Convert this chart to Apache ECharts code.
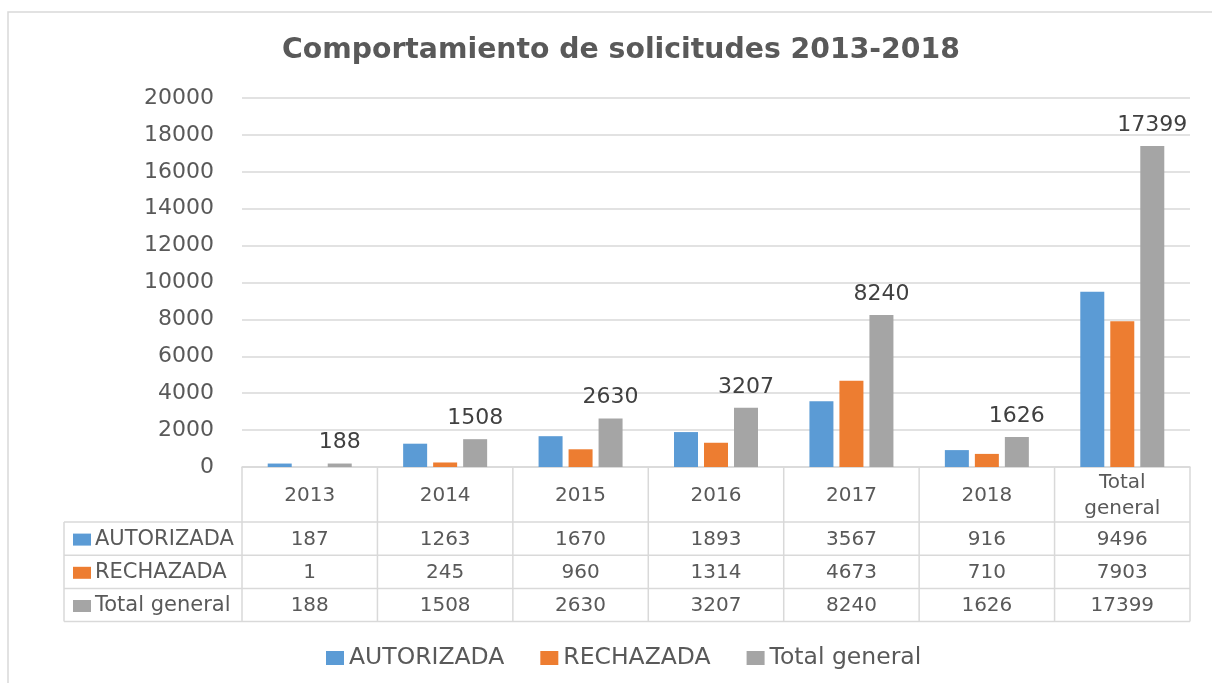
<!DOCTYPE html>
<html><head><meta charset="utf-8">
<script src="https://cdn.jsdelivr.net/npm/echarts@6/dist/echarts.min.js"></script>
<style>html,body{margin:0;padding:0;background:#fff}#c{width:1212px;height:683px}</style>
</head><body><div id="c"></div>
<script>
const categories = ['2013','2014','2015','2016','2017','2018','Total general'];
const headerLabels = ['2013','2014','2015','2016','2017','2018','Total\ngeneral'];
const seriesNames = ['AUTORIZADA','RECHAZADA','Total general'];
const autorizada = [187,1263,1670,1893,3567,916,9496];
const rechazada = [1,245,960,1314,4673,710,7903];
const totalGeneral = [188,1508,2630,3207,8240,1626,17399];
const colors = ['#5B9BD5','#ED7D31','#A5A5A5'];
const yMin = 0, yMax = 20000, yInterval = 2000;

const FONT = 'DejaVu Sans';
const TXT = '#595959';
const LINE = '#D9D9D9';

const chart = echarts.init(document.getElementById('c'), null, {renderer:'canvas'});
const allData = [autorizada, rechazada, totalGeneral];

chart.setOption({
  animation:false,
  backgroundColor:'#fff',
  textStyle:{fontFamily:FONT},
  title:{text:'Comportamiento de solicitudes 2013-2018', left:277, top:32,
    textStyle:{fontSize:28.3, fontWeight:'bold', color:TXT, fontFamily:FONT}},
  legend:{data:seriesNames, left:321, top:641, icon:'rect', itemWidth:18, itemHeight:14, itemGap:36,
    textStyle:{fontSize:23.5, color:TXT, fontFamily:FONT}},
  grid:{left:242, right:22, top:98, bottom:216, containLabel:false},
  xAxis:{type:'category', data:categories,
    axisLine:{show:true, lineStyle:{color:LINE, width:1.5}},
    axisTick:{show:false}, axisLabel:{show:false}},
  yAxis:{type:'value', min:yMin, max:yMax, interval:yInterval,
    axisLine:{show:false}, axisTick:{show:false},
    splitLine:{lineStyle:{color:LINE, width:1.5}},
    axisLabel:{fontSize:22, color:TXT, margin:28, fontFamily:FONT, formatter:(v)=>String(v)}},
  series: seriesNames.map((n,i)=>({
    name:n, type:'bar', data:allData[i], barWidth:24, barGap:'25%',
    itemStyle:{color:colors[i]},
    label: i===2 ? {show:true, position:'top', distance:10, fontSize:22, color:'#404040', fontFamily:FONT} : {show:false}
  }))
});

function buildTable(){
  const c0 = chart.convertToPixel({xAxisIndex:0}, categories[0]);
  const c1 = chart.convertToPixel({xAxisIndex:0}, categories[1]);
  const colW = c1 - c0;
  const left = c0 - colW/2;
  const right = left + colW*categories.length;
  const top = chart.convertToPixel({yAxisIndex:0}, 0);
  const headerH = 55, rowH = 33.2, labelLeft = 64;
  const els = [];
  const line = (x1,y1,x2,y2)=>els.push({type:'line', silent:true, shape:{x1,y1,x2,y2}, style:{stroke:LINE, lineWidth:1.5}});
  const rowsTop = top + headerH;
  const bottom = rowsTop + rowH*3;
  line(labelLeft, rowsTop, right, rowsTop);
  for(let r=1;r<=3;r++) line(labelLeft, rowsTop + rowH*r, right, rowsTop + rowH*r);
  line(labelLeft, rowsTop, labelLeft, bottom);
  for(let k=0;k<=categories.length;k++) line(left+colW*k, top, left+colW*k, bottom);
  headerLabels.forEach((h,k)=>{
    els.push({type:'text', silent:true, style:{text:h, x:left+colW*(k+0.5), y:top+headerH/2+1, align:'center', verticalAlign:'middle',
      fill:TXT, fontSize:20, fontFamily:FONT, lineHeight:26}});
  });
  seriesNames.forEach((n,r)=>{
    const yc = rowsTop + rowH*(r+0.5) + 1;
    els.push({type:'rect', silent:true, shape:{x:labelLeft+9, y:yc-6, width:18, height:12}, style:{fill:colors[r]}});
    els.push({type:'text', silent:true, style:{text:n, x:labelLeft+31, y:yc, align:'left', verticalAlign:'middle', fill:TXT, fontSize:21, fontFamily:FONT}});
    allData[r].forEach((v,k)=>{
      els.push({type:'text', silent:true, style:{text:String(v), x:left+colW*(k+0.5), y:yc, align:'center', verticalAlign:'middle', fill:TXT, fontSize:20, fontFamily:FONT}});
    });
  });
  els.push({type:'rect', silent:true, z:-1, shape:{x:8, y:12, width:1220, height:700}, style:{fill:'none', stroke:'#D9D9D9', lineWidth:1.5}});
  chart.setOption({graphic:els});
}
buildTable();
</script></body></html>
